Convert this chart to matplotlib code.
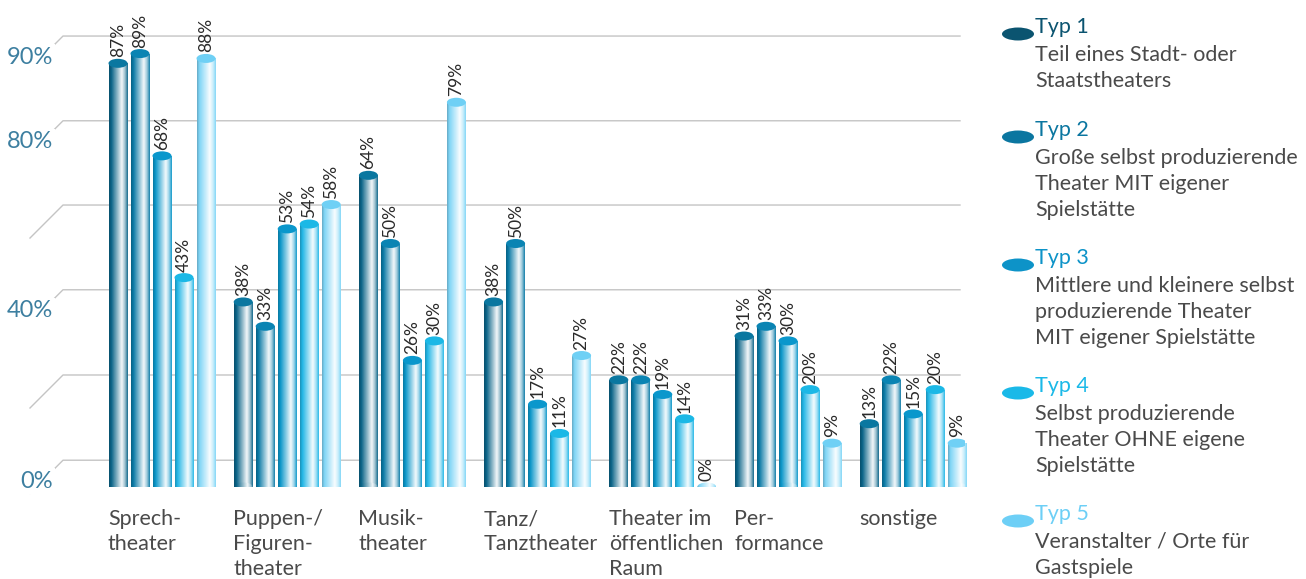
import numpy as np
import matplotlib
matplotlib.use("Agg")
import matplotlib.pyplot as plt
from matplotlib.patches import Ellipse
from matplotlib.colors import LinearSegmentedColormap, to_rgb

plt.rcParams['font.family'] = ['Lato', 'DejaVu Sans']

# Daten
kategorien = ["Sprech-\ntheater", "Puppen-/\nFiguren-\ntheater", "Musik-\ntheater",
              "Tanz/\nTanztheater", "Theater im\nöffentlichen\nRaum", "Per-\nformance", "sonstige"]
typ1 = [87, 38, 64, 38, 22, 31, 13]
typ2 = [89, 33, 50, 50, 22, 33, 22]
typ3 = [68, 53, 26, 17, 19, 30, 15]
typ4 = [43, 54, 30, 11, 14, 20, 20]
typ5 = [88, 58, 79, 27, 0, 9, 9]
serien = [typ1, typ2, typ3, typ4, typ5]

typ_namen = ["Typ 1", "Typ 2", "Typ 3", "Typ 4", "Typ 5"]
typ_texte = ["Teil eines Stadt- oder\nStaatstheaters",
             "Große selbst produzierende\nTheater MIT eigener\nSpielstätte",
             "Mittlere und kleinere selbst\nproduzierende Theater\nMIT eigener Spielstätte",
             "Selbst produzierende\nTheater OHNE eigene\nSpielstätte",
             "Veranstalter / Orte für\nGastspiele"]

# Gitterlinien (dekorativ) und ihre Beschriftungen
gitter_y = [92.6, 75.2, 57.9, 40.5, 23.0, 5.5]
gitter_lbl = ["90%", "80%", "", "40%", "", "0%"]

# Farben
koerper = ["#0a6488", "#0a7aa6", "#0b96c9", "#22b6e6", "#7fd5f6"]
deckel = ["#0a77a0", "#0a84b3", "#0a97cc", "#1bb8e6", "#6fd0f5"]
leg_farben = ["#0b5470", "#0b76a0", "#0d93c8", "#1ab9e8", "#6dcff6"]
text_grau = "#4a4a4a"

W, H = 1306, 579
fig = plt.figure(figsize=(W / 100, H / 100), dpi=100)
base_px = 487
px_per_unit = 4.87
ax = fig.add_axes([20 / W, (H - base_px) / H, 945 / W, base_px / H])
gx = 125.2  # px pro Gruppe
x0 = 118
xmin = (20 - x0) / gx
xmax = (965 - x0) / gx
ax.axis('off')

def px_x(p):
    return (p - x0) / gx

# Gitter
for gy, lbl in zip(gitter_y, gitter_lbl):
    ax.plot([px_x(30), px_x(63), px_x(960)], [gy - 33 / px_per_unit, gy, gy],
            color="#c4c4c4", lw=1.0, clip_on=False, zorder=1)
    if lbl:
        ax.text(px_x(53), gy - 21 / px_per_unit, lbl, ha='right', va='center',
                fontsize=17, color="#3d7fa0", clip_on=False, zorder=2,
                bbox=dict(boxstyle='square,pad=0.1', fc='white', ec='none'))

def cmap_fuer(c):
    c = np.array(to_rgb(c))
    w = np.ones(3)
    stops = [(0.0, c * 0.8), (0.12, c), (0.45, c + (w - c) * 0.55),
             (0.68, c + (w - c) * 0.95), (0.85, c + (w - c) * 0.6), (1.0, c * 0.95 + w * 0.05)]
    return LinearSegmentedColormap.from_list("zyl", [(p, tuple(np.clip(v, 0, 1))) for p, v in stops])

bw = 19 / gx
step = 22 / gx
eh = 9 / px_per_unit
grad = np.linspace(0, 1, 64).reshape(1, -1)

for j, werte in enumerate(serien):
    cm = cmap_fuer(koerper[j])
    xs = np.arange(len(werte)) + j * step
    bars = ax.bar(xs, werte, width=bw, color='none', edgecolor='none', zorder=3)
    for xb, v, b in zip(xs, werte, bars):
        l = xb - bw / 2
        im = ax.imshow(grad, cmap=cm, extent=[l, l + bw, 0, max(v, 0.01)],
                       aspect='auto', zorder=3, interpolation='bilinear')
        im.set_clip_path(b)
        boden = Ellipse((xb, 0), bw, eh, fc='none', ec='none', transform=ax.transData)
        ax.add_patch(boden)
        im2 = ax.imshow(grad, cmap=cm, extent=[l, l + bw, -eh, eh],
                        aspect='auto', zorder=3, interpolation='bilinear')
        im2.set_clip_path(boden)
        if v > 0:
            ax.add_patch(Ellipse((xb, v), bw, eh, fc=deckel[j], ec='none', zorder=4))
        ax.text(xb, v + eh / 2 + 0.3, f"{v}%", rotation=90, ha='center', va='bottom',
                fontsize=12.5, color="#2a2a2a", zorder=5)

ax.set_xlim(xmin, xmax)
ax.set_ylim(0, 100)

# Kategorien
for i, k in enumerate(kategorien):
    ax.text(i - 10 / gx, -22 / px_per_unit, k, ha='left', va='top', fontsize=15.5,
            color=text_grau, linespacing=1.31, clip_on=False)

# Legende
leg_y = [27, 130, 258, 386, 514]
for j in range(5):
    yt = 1 - leg_y[j] / H
    fig.patches.append(Ellipse((1018 / W, 1 - (leg_y[j] + 7) / H), 32 / W, 13 / H,
                               transform=fig.transFigure, fc=leg_farben[j], ec='none'))
    fig.text(1035 / W, yt, typ_namen[j], ha='left', va='center', fontsize=15.5,
             color=leg_farben[j])
    fig.text(1035 / W, 1 - (leg_y[j] + 18) / H, typ_texte[j], ha='left', va='top',
             fontsize=15.5, color=text_grau, linespacing=1.36)

fig.savefig("out.png", dpi=100, facecolor='white')
